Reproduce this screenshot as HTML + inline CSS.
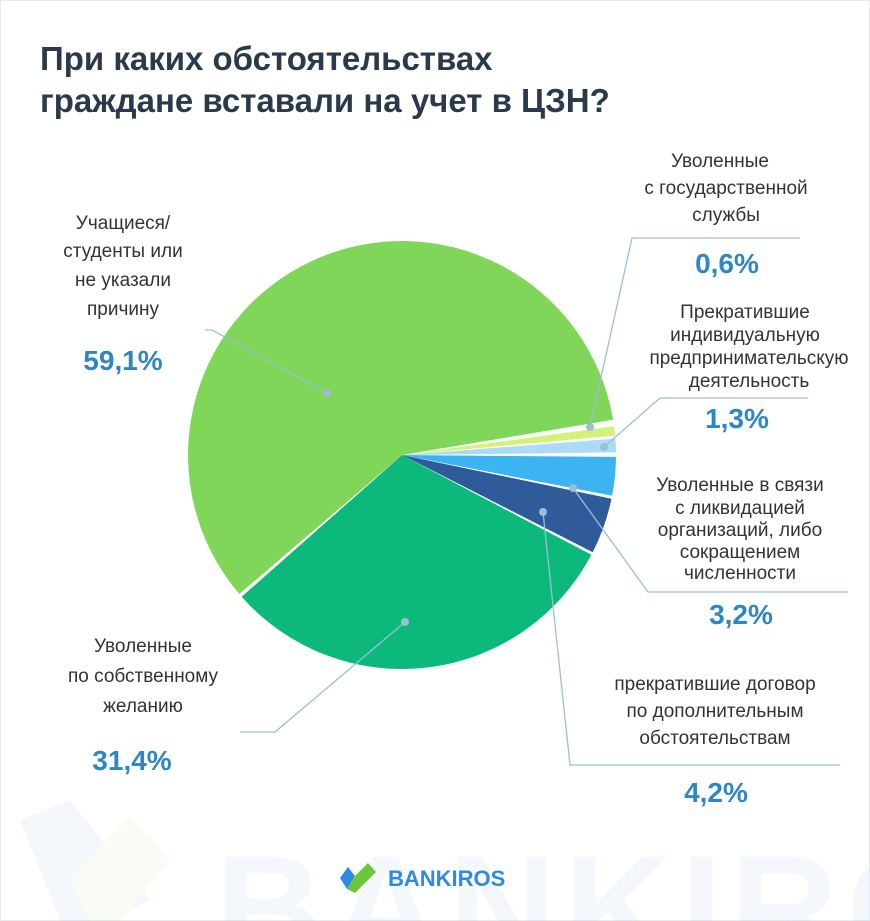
<!DOCTYPE html>
<html><head><meta charset="utf-8"><style>
body{margin:0;width:870px;height:921px;background:#fff;font-family:"Liberation Sans",sans-serif;overflow:hidden}
</style></head><body>
<svg id="s" width="870" height="921" xmlns="http://www.w3.org/2000/svg" style="position:absolute;left:0;top:0">
<rect x="0.5" y="0.5" width="869" height="920" fill="#fff" stroke="#e8eaec"/>
<g opacity="0.05">
<polygon points="20,820 70,800 150,900 110,921 60,921" fill="#3a8fd8"/>
<polygon points="70,880 130,815 170,860 120,921 90,921" fill="#8cd24a"/>
<text x="215" y="960" font-size="150" font-weight="bold" fill="#3a8fd8" letter-spacing="8">BANKIROS</text>
</g>
<text font-family="Liberation Sans, sans-serif" font-weight="bold" font-size="33" fill="#2b3a4b">
<tspan x="40" y="70">При каких обстоятельствах</tspan>
<tspan x="40" y="112">граждане вставали на учет в ЦЗН?</tspan>
</text>
<g id="pie"></g>
<g stroke="#9dbdd6" stroke-width="1.3" fill="none">
<polyline points="205,330 212,330 327,393"/>
<polyline points="405,622 275,732 240,732"/>
<polyline points="590,427 632,238 800,238"/>
<polyline points="604,447 660,398 808,398"/>
<polyline points="573,488 648,592 848,592"/>
<polyline points="543,512 570,765 840,765"/>
</g>
<g fill="#9dbdd6">
<circle cx="327" cy="393" r="4"/><circle cx="405" cy="622" r="4"/><circle cx="590" cy="427" r="4"/>
<circle cx="604" cy="447" r="4"/><circle cx="573" cy="488" r="4"/><circle cx="543" cy="512" r="4"/>
</g>
<g font-size="19" fill="#333" text-anchor="middle">
<text x="123" y="229">Учащиеся/</text><text x="123" y="257">студенты или</text>
<text x="123" y="286">не указали</text><text x="123" y="315">причину</text>
<text x="720" y="167">Уволенные</text><text x="726" y="194">с государственной</text><text x="726" y="221">службы</text>
<text x="745" y="318">Прекратившие</text><text x="745" y="341">индивидуальную</text>
<text x="749" y="364">предпринимательскую</text><text x="749" y="387">деятельность</text>
<text x="740" y="491">Уволенные в связи</text><text x="740" y="514">с ликвидацией</text>
<text x="740" y="536">организаций, либо</text><text x="740" y="558">сокращением</text><text x="740" y="579">численности</text>
<text x="143" y="652">Уволенные</text><text x="143" y="682">по собственному</text><text x="143" y="712">желанию</text>
<text x="715" y="690">прекратившие договор</text><text x="715" y="717">по дополнительным</text><text x="715" y="744">обстоятельствам</text>
</g>
<g font-size="28" font-weight="bold" fill="#2f86c4" text-anchor="middle">
<text x="123" y="370">59,1%</text><text x="727" y="273">0,6%</text><text x="737" y="428">1,3%</text>
<text x="741" y="624">3,2%</text><text x="132" y="770">31,4%</text><text x="716" y="802">4,2%</text>
</g>
<polygon points="340,878 348,867 355,876 347,889" fill="#2f8be0"/>
<polygon points="347,889 355,876 368,863 376,872 355,893" fill="#6cc73a"/>
<text x="388" y="886" font-size="22" font-weight="bold" fill="#2f8be0">BANKIROS</text>
</svg>
<script>
var cx=402,cy=455,r=214;
var sl=[[139.5,350.5,"#7fd659"],[352.3,354.8,"#d3f27a"],[355.6,359.3,"#aadcf7"],[360.5,371,"#3bb4f1"],[371.8,387,"#2f5b9a"],[387.8,498.5,"#0cb97b"]];
var g=document.getElementById("pie"),h="";
sl.forEach(function(s){var a=s[0]*Math.PI/180,b=s[1]*Math.PI/180;
var x1=cx+r*Math.cos(a),y1=cy+r*Math.sin(a),x2=cx+r*Math.cos(b),y2=cy+r*Math.sin(b);
var la=(s[1]-s[0])>180?1:0;
h+='<path d="M'+cx+','+cy+' L'+x1.toFixed(1)+','+y1.toFixed(1)+' A'+r+','+r+' 0 '+la+' 1 '+x2.toFixed(1)+','+y2.toFixed(1)+' Z" fill="'+s[2]+'"/>';});
g.innerHTML=h;
</script>
</body></html>
